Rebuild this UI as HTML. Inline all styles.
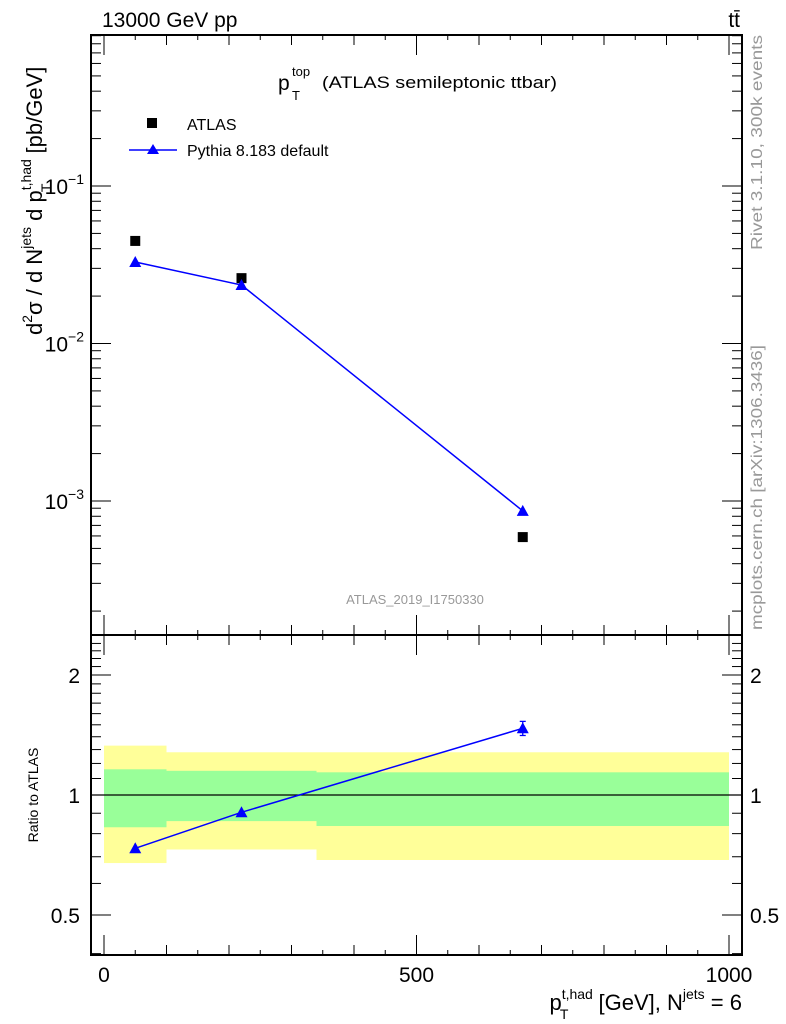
<!DOCTYPE html>
<html><head><meta charset="utf-8"><style>
html,body{margin:0;padding:0;background:#fff}
svg{display:block;font-family:"Liberation Sans",sans-serif}
</style></head><body>
<svg id="chart" width="786" height="1024" viewBox="0 0 786 1024">
<g id="bands"></g>
<g id="axes"></g>
<g id="marks"></g>
<text x="102" y="27" font-size="21">13000 GeV pp</text>
<text x="740" y="27" font-size="21" text-anchor="end">tt̄</text>
<text x="278" y="90" font-size="21">p</text>
<text x="292" y="76" font-size="13">top</text>
<text x="292" y="100" font-size="13">T</text>
<text x="322" y="88" font-size="17" textLength="235" lengthAdjust="spacingAndGlyphs">(ATLAS semileptonic ttbar)</text>
<rect x="147" y="118" width="10" height="10" fill="#000"/>
<text x="187" y="130" font-size="16">ATLAS</text>
<line x1="129" y1="150" x2="177" y2="150" stroke="#00f" stroke-width="1.5"/>
<polygon points="153,144 147,154 159,154" fill="#00f"/>
<text x="187" y="156" font-size="16">Pythia 8.183 default</text>
<text x="415" y="604" font-size="13" fill="#999" text-anchor="middle">ATLAS_2019_I1750330</text>
<text transform="translate(42,335) rotate(-90)" font-size="22">d<tspan font-size="14" dy="-10">2</tspan><tspan dy="10">σ  /  d N</tspan><tspan font-size="14" dy="-11">jets</tspan><tspan dy="11"> d p</tspan><tspan font-size="14" dy="-11">t,had</tspan><tspan font-size="14" dx="-33" dy="20">T</tspan><tspan dx="24" dy="-9"> [pb/GeV]</tspan></text>
<text transform="translate(38,795) rotate(-90)" font-size="14" text-anchor="middle">Ratio to ATLAS</text>
<text x="742" y="1010" font-size="22" text-anchor="end">p<tspan font-size="14" dy="-11">t,had</tspan><tspan font-size="14" dx="-33" dy="20">T</tspan><tspan dx="24" dy="-9"> [GeV], N</tspan><tspan font-size="14" dy="-11">jets</tspan><tspan dy="11"> = 6</tspan></text>
<text transform="translate(762,250) rotate(-90)" font-size="16" fill="#999" textLength="215" lengthAdjust="spacingAndGlyphs">Rivet 3.1.10,  300k events</text>
<text transform="translate(762,630) rotate(-90)" font-size="16" fill="#999" textLength="285" lengthAdjust="spacingAndGlyphs">mcplots.cern.ch [arXiv:1306.3436]</text>
</svg>
<script>
const binEdges=[0,100,340,1000];
const xCenters=[50,220,670];
const atlasValues=[0.0448,0.026,0.00059];
const pythiaValues=[0.0329,0.0235,0.000865];
const pythiaRatio=[0.735,0.905,1.47];
const pythiaRatioErr=[0.01,0.01,0.06];
const yellowHi=[1.33,1.28,1.28];
const yellowLo=[0.675,0.73,0.687];
const greenHi=[1.16,1.15,1.14];
const greenLo=[0.83,0.86,0.836];
const xTicks=[0,500,1000];
const mainTicks=[0.1,0.01,0.001];
const mainTickLabels=["10","10","10"];
const mainTickExp=["−1","−2","−3"];
const ratioTicks=[0.5,1,2];
const ratioTickLabels=["0.5","1","2"];

const L=91,R=742,T=35,D=635,B=955;
const X=v=>104+v*0.625;
const Y=v=>186-(Math.log10(v)+1)*157.5;
const RY=v=>795-Math.log2(v)*120;
const NS="http://www.w3.org/2000/svg";
function mk(p,tag,at){const e=document.createElementNS(NS,tag);for(const k in at)e.setAttribute(k,at[k]);document.getElementById(p).appendChild(e);return e;}

for(let i=0;i<3;i++){
 const r=mk('bands','rect',{x:X(binEdges[i]),y:RY(yellowHi[i]),width:X(binEdges[i+1])-X(binEdges[i]),height:RY(yellowLo[i])-RY(yellowHi[i]),fill:'#ffff99'});
 
 
}
for(let i=0;i<3;i++){
 const r=mk('bands','rect',{x:X(binEdges[i]),y:RY(greenHi[i]),width:X(binEdges[i+1])-X(binEdges[i]),height:RY(greenLo[i])-RY(greenHi[i]),fill:'#99ff99'});
 
 
}
const f1=mk('axes','rect',{x:L,y:T,width:R-L,height:D-T,fill:'none',stroke:'#000','stroke-width':2});


const f2=mk('axes','rect',{x:L,y:D,width:R-L,height:B-D,fill:'none',stroke:'#000','stroke-width':2});


const one=mk('axes','line',{x1:L,x2:R,y1:RY(1),y2:RY(1),stroke:'#000','stroke-width':1.2});


for(let v=0;v<=1000;v+=50){
 const big=v%500===0, mid=v%100===0;
 const len=big?20:(mid?10:5);
 const x=X(v);
 for(const [y0,dir] of [[D,-1],[T,1],[B,-1],[D,1]]){
  const t=mk('axes','line',{x1:x,x2:x,y1:y0,y2:y0+dir*len,stroke:'#000','stroke-width':1});
  
  
 }
}
xTicks.forEach(v=>{
 const t=mk('axes','text',{x:X(v),y:982,'font-size':21,'text-anchor':'middle'});t.textContent=v;
 
 
});
for(let e=-4;e<=0;e++)for(let m=1;m<10;m++){
 const v=m*Math.pow(10,e);const y=Y(v);if(y<T||y>D)continue;
 const len=m===1?20:10;
 for(const [x0,dir] of [[L,1],[R,-1]]){
  const t=mk('axes','line',{x1:x0,x2:x0+dir*len,y1:y,y2:y,stroke:'#000','stroke-width':1});
  
  
 }
}
mainTicks.forEach((v,i)=>{
 const t=mk('axes','text',{x:84,y:Y(v)+8,'font-size':21,'text-anchor':'end'});
 t.innerHTML=mainTickLabels[i]+'<tspan font-size="14" dy="-10">'+mainTickExp[i]+'</tspan>';
 
 
});
for(let v=0.4;v<=2.5;v+=0.1){
 const y=RY(v);if(y<D||y>B)continue;
 const r=Math.round(v*10)/10;const big=(r===0.5||r===1||r===2);
 const len=big?20:10;
 for(const [x0,dir] of [[L,1],[R,-1]]){
  const t=mk('axes','line',{x1:x0,x2:x0+dir*len,y1:y,y2:y,stroke:'#000','stroke-width':1});
  
  
 }
}
ratioTicks.forEach((v,i)=>{
 for(const [x,a] of [[80,'end'],[750,'start']]){
  const t=mk('axes','text',{x:x,y:RY(v)+8,'font-size':21,'text-anchor':a});t.textContent=ratioTickLabels[i];
  
  
 }
});
const pl=mk('marks','polyline',{points:xCenters.map((x,i)=>X(x)+','+Y(pythiaValues[i])).join(' '),fill:'none',stroke:'#00f','stroke-width':1.5});


const rl=mk('marks','polyline',{points:xCenters.map((x,i)=>X(x)+','+RY(pythiaRatio[i])).join(' '),fill:'none',stroke:'#00f','stroke-width':1.5});


const tri=(x,y)=>`${x},${y-6} ${x-6},${y+5} ${x+6},${y+5}`;
xCenters.forEach((x,i)=>{
 const s=mk('marks','rect',{x:X(x)-5,y:Y(atlasValues[i])-5,width:10,height:10,fill:'#000'});
 
 
 const p=mk('marks','polygon',{points:tri(X(x),Y(pythiaValues[i])),fill:'#00f'});
 
 
 const e=pythiaRatioErr[i];
 if(e>0.03){
  const eb=mk('marks','path',{d:`M${X(x)},${RY(pythiaRatio[i]+e)}V${RY(pythiaRatio[i]-e)}M${X(x)-3},${RY(pythiaRatio[i]+e)}h6M${X(x)-3},${RY(pythiaRatio[i]-e)}h6`,stroke:'#00f','stroke-width':1.3,fill:'none'});
  
  
 }
 const q=mk('marks','polygon',{points:tri(X(x),RY(pythiaRatio[i])),fill:'#00f'});
 
 
});
</script>
</body></html>
